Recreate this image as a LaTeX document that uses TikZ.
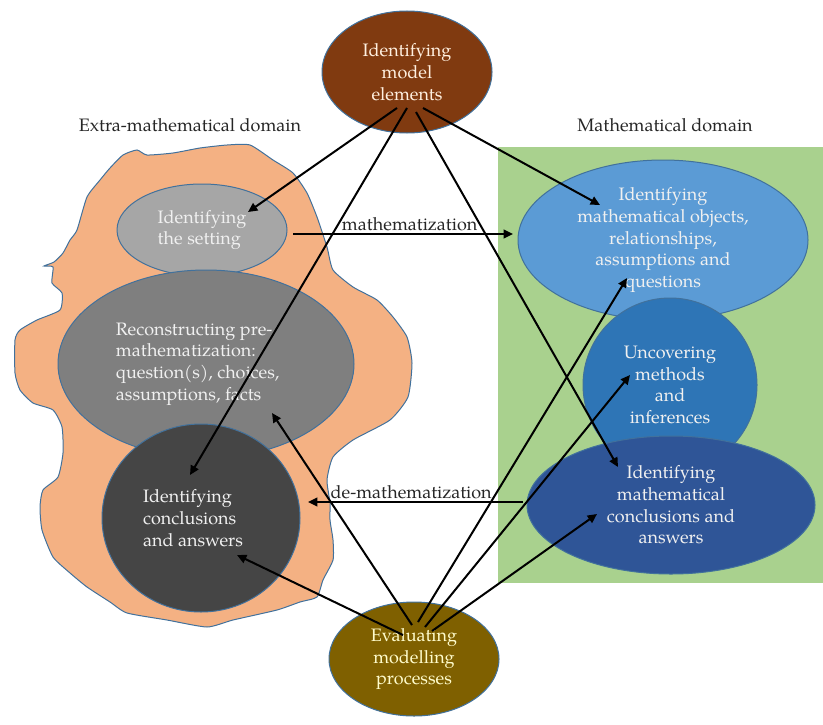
\documentclass[tikz,border=0pt]{standalone}
\usepackage{fontspec}
\setmainfont{TeX Gyre Pagella}
\usepackage{tikz}
\usetikzlibrary{arrows.meta,shapes.geometric}
\definecolor{edgeblue}{HTML}{41719C}
\definecolor{blobfill}{HTML}{F4B183}
\definecolor{mathgreen}{HTML}{A9D18E}
\definecolor{modelbrown}{HTML}{803A10}
\definecolor{evalgold}{HTML}{7F6000}
\definecolor{setgray}{HTML}{A6A6A6}
\definecolor{recongray}{HTML}{7F7F7F}
\definecolor{conclgray}{HTML}{454545}
\definecolor{objblue}{HTML}{5B9BD5}
\definecolor{methblue}{HTML}{2E75B6}
\definecolor{mconclblue}{HTML}{2F5597}

\begin{document}
\begin{tikzpicture}[x=0.75pt, y=-0.75pt,
  every node/.style={font=\fontsize{13.5}{16.3}\selectfont},
  bubble/.style={ellipse, draw=edgeblue, line width=0.75pt, inner sep=0pt,
                 text=white!94!black, align=center},
  arrow/.style={-{Triangle[length=7pt,width=6.5pt]}, line width=1.5pt},
  domlbl/.style={text=black!85},
]
\useasboundingbox (0,0) rectangle (823,724);

%% Domains
\fill[mathgreen] (498,147) rectangle (823,583);
\filldraw[fill=blobfill, draw=edgeblue, line width=0.75pt]
  plot[smooth cycle, tension=0.35] coordinates {
  (70,240) (63,253) (54,262) (44,266) (53,267) (52,283) (62,293) (60,310)
  (37,320) (20,330) (15,340) (15,373) (20,390) (33,403) (53,410) (62,427)
  (63,453) (58,477) (43,490) (40,507) (42,530) (53,557) (70,573) (87,587)
  (110,602) (127,613) (167,620) (207,627) (233,620) (277,610) (300,602)
  (317,597) (323,580) (333,560) (333,540) (330,520) (330,503) (327,480)
  (333,457) (353,440) (390,420) (408,397) (412,363) (407,337) (393,317)
  (377,300) (353,287) (333,270) (327,247) (317,217) (307,193) (293,173)
  (273,160) (250,145) (227,145) (200,148) (173,153) (147,155) (137,150)
  (123,155) (110,168) (100,180) (87,197) (77,230)};

\node[domlbl] (extra)   at (190,125) {Extra-mathematical domain};
\node[domlbl] (mathdom) at (665,125) {Mathematical domain};

%% Extra-mathematical side
\node[bubble, fill=setgray, minimum width=127.5pt, minimum height=69pt,
      align=left] (setting) at (202,230) {Identifying\\the setting};
\node[bubble, fill=recongray, minimum width=222pt, minimum height=141pt,
      align=left] (recon) at (206,364)
  {Reconstructing pre-\\mathematization:\\question(s), choices,\\assumptions, facts\hspace*{26pt}};
\node[bubble, fill=conclgray, minimum width=148.5pt, minimum height=141pt,
      align=left] (concl) at (201,518)
  {Identifying\\conclusions\\and answers\hspace*{12pt}};

%% Mathematical side
\node[bubble, fill=objblue, minimum width=217.5pt, minimum height=120pt]
  (objects) at (663,240)
  {Identifying\\mathematical objects,\\relationships,\\assumptions and\\questions};
\node[bubble, fill=methblue, minimum width=130.5pt, minimum height=130.5pt]
  (methods) at (670,385) {Uncovering\\methods\\and\\inferences};
\node[bubble, fill=mconclblue, minimum width=216pt, minimum height=103.5pt]
  (mconcl) at (671,505)
  {Identifying\\mathematical\\conclusions and\\answers};

%% Model and evaluation
\node[bubble, fill=modelbrown, text=orange!12, minimum width=127.5pt,
      minimum height=91.5pt] (model) at (407,72)
  {Identifying\\model\\elements};
\node[bubble, fill=evalgold, text=yellow!20, minimum width=127.5pt,
      minimum height=85.5pt] (evaluate) at (414,659)
  {Evaluating\\modelling\\processes};

%% Arrow ends
\coordinate (model-a) at (397,108);
\coordinate (model-b) at (407,108);
\coordinate (model-c) at (416,112);
\coordinate (model-d) at (423,108);
\coordinate (eval-a) at (412,625);
\coordinate (eval-b) at (418,622);
\coordinate (eval-c) at (425,627);
\coordinate (eval-d) at (432,631);
\coordinate (eval-e) at (403,635);
\coordinate (setting-in)  at (248,212);
\coordinate (setting-out) at (293,234);
\coordinate (recon-in)    at (272,413);
\coordinate (concl-in)    at (190,475);
\coordinate (concl-in2)   at (237,555);
\coordinate (concl-back)  at (308,502);
\coordinate (objects-in)  at (600,205);
\coordinate (objects-in2) at (627,278);
\coordinate (objects-side) at (513,234);
\coordinate (methods-in)  at (630,375);
\coordinate (mconcl-in)   at (618,467);
\coordinate (mconcl-in2)  at (597,514);
\coordinate (mconcl-out)  at (523,502);

%% Arrows
\draw[arrow] (model-a) -- (setting-in);
\draw[arrow] (model-b) -- (concl-in);
\draw[arrow] (model-c) -- (mconcl-in);
\draw[arrow] (model-d) -- (objects-in);

\draw[arrow] (eval-a) -- (recon-in);
\draw[arrow] (eval-b) -- (objects-in2);
\draw[arrow] (eval-c) -- (methods-in);
\draw[arrow] (eval-d) -- (mconcl-in2);
\draw[arrow] (eval-e) -- (concl-in2);

\draw[arrow] (setting-out) -- (objects-side)
  node[pos=0.53, above, inner sep=1.5pt, text=black!85] {mathematization};
\draw[arrow] (mconcl-out) -- (concl-back)
  node[pos=0.52, above, inner sep=1.5pt, text=black!85] {de-mathematization};

\end{tikzpicture}
\end{document}
